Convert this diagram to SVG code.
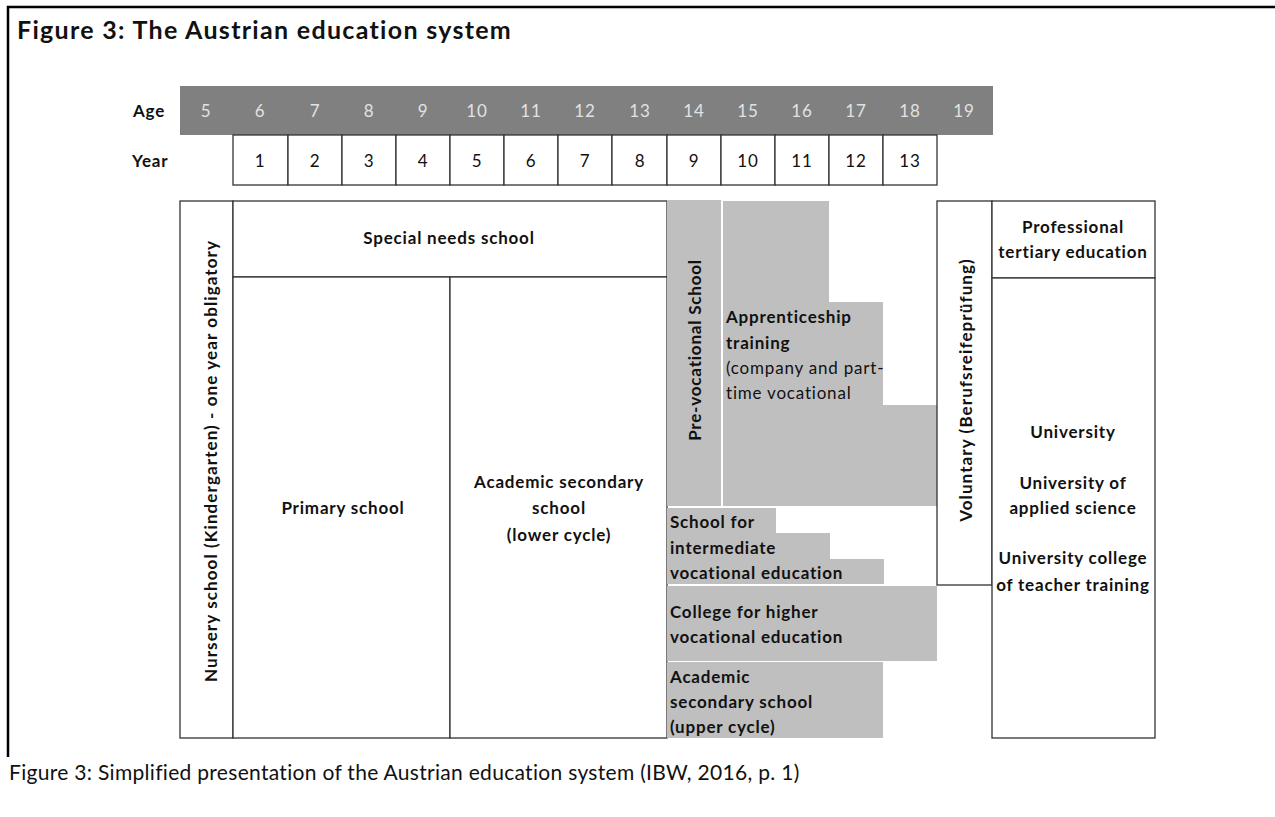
<svg xmlns="http://www.w3.org/2000/svg" width="1275" height="817" viewBox="0 0 1275 817">
  <style>
    text { font-family: Lato, "Open Sans", "Liberation Sans", sans-serif; fill: #111; letter-spacing: 0.8px; }
    .b { font-weight: bold; font-size: 17px; }
    .r { font-size: 17px; }
    .c { text-anchor: middle; }
    .age { font-size: 17px; fill: #e2e2e2; text-anchor: middle; }
    .yr { font-size: 17px; text-anchor: middle; }
    .box { fill: #ffffff; stroke: #333333; stroke-width: 1.3; }
    .grey { fill: #bfbfbf; }
    .frame { stroke: #000000; stroke-width: 2.5; fill: none; }
  </style>

  <rect x="0" y="0" width="1275" height="817" fill="#ffffff"/>

  <!-- page frame -->
  <path class="frame" d="M1275 7 H8 V757"/>

  <text x="17" y="39" style="font-weight:bold;font-size:25px;letter-spacing:1.3px">Figure 3: The Austrian education system</text>

  <!-- age band -->
  <g id="age-row">
    <rect x="180" y="86" width="813" height="49" fill="#808080"/>
    <text class="b" x="133" y="117">Age</text>
    <text class="age" x="206" y="117">5</text>
    <text class="age" x="260" y="117">6</text>
    <text class="age" x="315" y="117">7</text>
    <text class="age" x="369" y="117">8</text>
    <text class="age" x="423" y="117">9</text>
    <text class="age" x="477" y="117">10</text>
    <text class="age" x="531" y="117">11</text>
    <text class="age" x="585" y="117">12</text>
    <text class="age" x="640" y="117">13</text>
    <text class="age" x="694" y="117">14</text>
    <text class="age" x="748" y="117">15</text>
    <text class="age" x="802" y="117">16</text>
    <text class="age" x="856" y="117">17</text>
    <text class="age" x="910" y="117">18</text>
    <text class="age" x="964" y="117">19</text>
  </g>

  <!-- school year row -->
  <g id="year-row">
    <text class="b" x="132" y="167">Year</text>
    <rect class="box" x="233" y="135" width="55" height="50"/>
    <rect class="box" x="288" y="135" width="54" height="50"/>
    <rect class="box" x="342" y="135" width="54" height="50"/>
    <rect class="box" x="396" y="135" width="54" height="50"/>
    <rect class="box" x="450" y="135" width="54" height="50"/>
    <rect class="box" x="504" y="135" width="54" height="50"/>
    <rect class="box" x="558" y="135" width="54" height="50"/>
    <rect class="box" x="612" y="135" width="55" height="50"/>
    <rect class="box" x="667" y="135" width="54" height="50"/>
    <rect class="box" x="721" y="135" width="54" height="50"/>
    <rect class="box" x="775" y="135" width="54" height="50"/>
    <rect class="box" x="829" y="135" width="54" height="50"/>
    <rect class="box" x="883" y="135" width="54" height="50"/>
    <text class="yr" x="260" y="167">1</text>
    <text class="yr" x="315" y="167">2</text>
    <text class="yr" x="369" y="167">3</text>
    <text class="yr" x="423" y="167">4</text>
    <text class="yr" x="477" y="167">5</text>
    <text class="yr" x="531" y="167">6</text>
    <text class="yr" x="585" y="167">7</text>
    <text class="yr" x="640" y="167">8</text>
    <text class="yr" x="694" y="167">9</text>
    <text class="yr" x="748" y="167">10</text>
    <text class="yr" x="802" y="167">11</text>
    <text class="yr" x="856" y="167">12</text>
    <text class="yr" x="910" y="167">13</text>
  </g>

  <g id="nursery">
    <rect class="box" x="180" y="201" width="53" height="537"/>
    <text class="b c" transform="translate(210 461) rotate(-90)" dominant-baseline="central" style="letter-spacing:1.1px">Nursery school (Kindergarten) - one year obligatory</text>
  </g>

  <g id="special-needs">
    <rect class="box" x="233" y="201" width="434" height="76"/>
    <text class="b c" x="449" y="244">Special needs school</text>
  </g>

  <g id="primary">
    <rect class="box" x="233" y="277" width="217" height="461"/>
    <text class="b c" x="343" y="514">Primary school</text>
  </g>

  <g id="academic-lower">
    <rect class="box" x="450" y="277" width="217" height="461"/>
    <text class="b c" x="559" y="488">Academic secondary</text>
    <text class="b c" x="559" y="514">school</text>
    <text class="b c" x="559" y="541">(lower cycle)</text>
  </g>

  <g id="pre-vocational">
    <rect class="grey" x="667" y="200" width="54" height="306"/>
    <text class="b c" transform="translate(694 350) rotate(-90)" dominant-baseline="central">Pre-vocational School</text>
  </g>

  <g id="apprenticeship">
    <path class="grey" d="M723 201 H829 V302 H883 V405 H937 V506 H723 Z"/>
    <text class="b" x="726" y="323">Apprenticeship</text>
    <text class="b" x="726" y="349">training</text>
    <text class="r" x="726" y="374">(company and part-</text>
    <text class="r" x="726" y="399">time vocational</text>
  </g>

  <g id="intermediate-vocational">
    <path class="grey" d="M667 508 H776 V533 H830 V559 H884 V584 H667 Z"/>
    <text class="b" x="670" y="528">School for</text>
    <text class="b" x="670" y="554">intermediate</text>
    <text class="b" x="670" y="579">vocational education</text>
  </g>

  <g id="higher-vocational">
    <rect class="grey" x="667" y="586" width="270" height="75"/>
    <text class="b" x="670" y="618">College for higher</text>
    <text class="b" x="670" y="643">vocational education</text>
  </g>

  <g id="academic-upper">
    <rect class="grey" x="667" y="662" width="216" height="76"/>
    <text class="b" x="670" y="683">Academic</text>
    <text class="b" x="670" y="708">secondary school</text>
    <text class="b" x="670" y="733">(upper cycle)</text>
  </g>

  <g id="voluntary">
    <rect class="box" x="937" y="201" width="55" height="384"/>
    <text class="b c" transform="translate(965 390) rotate(-90)" dominant-baseline="central" style="letter-spacing:1.1px">Voluntary (Berufsreifeprüfung)</text>
  </g>

  <g id="professional-tertiary">
    <rect class="box" x="992" y="201" width="163" height="77"/>
    <text class="b c" x="1073" y="233">Professional</text>
    <text class="b c" x="1073" y="258">tertiary education</text>
  </g>

  <g id="university">
    <rect class="box" x="992" y="278" width="163" height="460"/>
    <text class="b c" x="1073" y="438">University</text>
    <text class="b c" x="1073" y="489">University of</text>
    <text class="b c" x="1073" y="514">applied science</text>
    <text class="b c" x="1073" y="564">University college</text>
    <text class="b c" x="1073" y="591">of teacher training</text>
  </g>

  <text x="9" y="780" style="font-size:21px;letter-spacing:0.3px">Figure 3: Simplified presentation of the Austrian education system (IBW, 2016, p. 1)</text>
</svg>
